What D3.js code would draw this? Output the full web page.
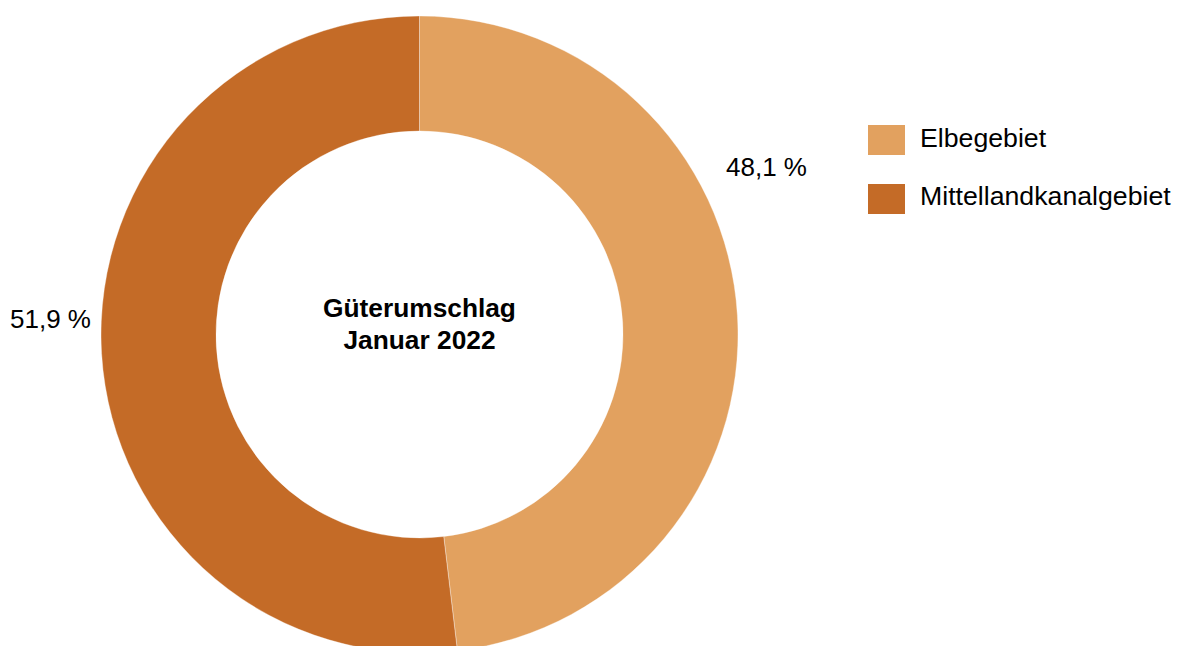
<!DOCTYPE html>
<html><head><meta charset="utf-8">
<script src="https://cdn.jsdelivr.net/npm/d3@7"></script>
<style>body{margin:0;background:#fff}svg{display:block}text{font-family:"Liberation Sans",Arial,sans-serif;fill:#000}</style>
</head><body><svg id="c" width="1178" height="646"></svg>
<script>
const categories = ["Elbegebiet", "Mittellandkanalgebiet"];
const values = [48.1, 51.9];
const labels = ["48,1 %", "51,9 %"];
const colors = ["#E2A15F", "#C46B27"];
const title = ["Güterumschlag", "Januar 2022"];

const svg = d3.select("#c");
const cx = 419.5, cy = 334.5, rO = 318.5, rI = 203.5;
const pie = d3.pie().sort(null).value(d => d)(values);
const arc = d3.arc().innerRadius(rI).outerRadius(rO);
const g = svg.append("g").attr("transform", `translate(${cx},${cy})`);
g.selectAll("path").data(pie).join("path")
  .attr("d", arc).attr("fill", (d, i) => colors[i])
  .attr("stroke", "#fff").attr("stroke-width", 0.6).attr("stroke-opacity", 0.6);

// percentage labels
const labelPos = [[726, 176], [10, 328]];
svg.selectAll("text.pl").data(labels).join("text").attr("class", "pl")
  .attr("x", (d, i) => labelPos[i][0]).attr("y", (d, i) => labelPos[i][1])
  .attr("font-size", 26).text(d => d);

// center title
svg.selectAll("text.t").data(title).join("text").attr("class", "t")
  .attr("x", cx).attr("y", (d, i) => 317 + i * 31.5)
  .attr("text-anchor", "middle").attr("font-weight", "bold").attr("font-size", 26.3)
  .text(d => d);

// legend
const lg = svg.append("g");
categories.forEach((c, i) => {
  lg.append("rect").attr("x", 868).attr("y", 125 + i * 59).attr("width", 37).attr("height", 30).attr("fill", colors[i]);
  lg.append("text").attr("x", 920).attr("y", 147 + i * 58).attr("font-size", 26.7).text(c);
});
</script></body></html>
